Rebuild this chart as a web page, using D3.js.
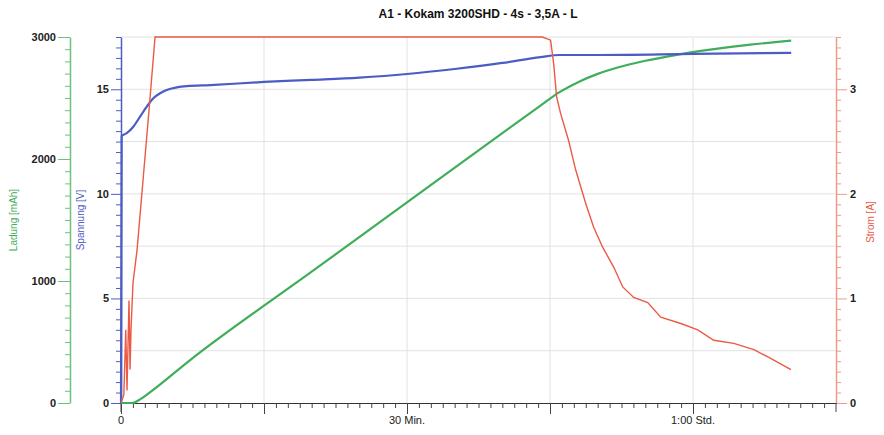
<!DOCTYPE html>
<html>
<head>
  <meta charset="utf-8">
  <title>A1 - Kokam 3200SHD</title>
  <style>
    body { margin: 0; background: #fff; }
    svg text { font-family: "Liberation Sans", Arial, sans-serif; }
  </style>
</head>
<body>
  <div id="chart"></div>
  <script src="https://cdn.jsdelivr.net/npm/d3@7"></script>
  <script type="text/javascript">
    var w = 884;
    var h = 435;

    // time in minutes
    var stromT = [0, 0.3, 0.5, 0.63, 0.84, 0.95, 1.05, 1.26, 1.68, 2.31, 2.94, 3.57, 44.2, 45.06, 45.38, 45.69, 46.11, 46.95, 47.69, 48.74, 49.58, 50.52, 51.68, 52.63, 53.78, 55.25, 56.62, 58.72, 60.5, 62.18, 64.28, 66.39, 67.86, 70.27];
    var stromA = [0, 0.08, 0.7, 0.12, 0.98, 0.32, 0.7, 1.15, 1.46, 2.13, 2.8, 3.5, 3.5, 3.47, 3.25, 2.93, 2.77, 2.51, 2.23, 1.91, 1.68, 1.49, 1.3, 1.11, 1.01, 0.96, 0.82, 0.76, 0.7, 0.6, 0.57, 0.51, 0.44, 0.32];

    var spannungT = [0, 0.07, 0.6, 1.29, 2.0, 2.7, 3.39, 4.1, 4.8, 5.85, 6.9, 9.35, 15, 20, 25, 30, 35, 40, 44, 46, 50, 60, 70.3];
    var spannungV = [0, 12.77, 12.9, 13.21, 13.69, 14.17, 14.57, 14.81, 14.97, 15.09, 15.15, 15.2, 15.35, 15.45, 15.56, 15.73, 15.97, 16.26, 16.54, 16.64, 16.64, 16.69, 16.74];

    var ladungT = [0, 1.2, 2, 3, 7.25, 20, 30, 40, 44, 46, 48, 50, 52, 55, 58, 62, 66, 70.3];
    var ladungMah = [0, 0, 30, 85, 352, 1076, 1644, 2212, 2437, 2548, 2632, 2698, 2748, 2805, 2850, 2898, 2937, 2970];

    var xLabels = [[0, "0"], [30, "30 Min."], [60, "1:00 Std."]];

    var gruen = "#3fae5a", blau = "#4b5cc4", rot = "#ea5a44";

    var x = d3.scaleLinear().domain([0, 75]).range([121, 836]);
    var yV = d3.scaleLinear().domain([0, 17.5]).range([403, 37]);
    var yA = d3.scaleLinear().domain([0, 3.5]).range([403, 37]);
    var yL = d3.scaleLinear().domain([0, 3000]).range([403, 37]);

    var svg = d3.select("#chart")
      .append("svg")
      .attr("width", w)
      .attr("height", h);

    // grid
    svg.append("g").selectAll("line")
      .data([15, 30, 45, 60])
      .enter().append("line")
      .attr("x1", function(d) { return x(d); })
      .attr("x2", function(d) { return x(d); })
      .attr("y1", 37).attr("y2", 403)
      .attr("stroke", "#e2e2e2");

    svg.append("g").selectAll("line")
      .data(d3.range(0.5, 3.51, 0.5))
      .enter().append("line")
      .attr("x1", 121).attr("x2", 836)
      .attr("y1", function(d) { return yA(d); })
      .attr("y2", function(d) { return yA(d); })
      .attr("stroke", "#e2e2e2");

    function axisStyle(g, col) {
      g.select(".domain").attr("stroke", col).attr("stroke-width", 1.5);
      g.selectAll(".tick line").attr("stroke", col);
      g.selectAll(".tick text").attr("fill", "#222").style("font-size", "11px").style("font-weight", "bold");
    }

    // green axis (Ladung)
    var gL = svg.append("g").attr("transform", "translate(70,0)");
    gL.call(d3.axisLeft(yL).tickValues(d3.range(0, 3001, 100)).tickSize(5).tickSizeOuter(0)
      .tickFormat(function(d) { return d % 1000 === 0 ? d : ""; }));
    gL.selectAll(".tick").filter(function(d) { return d % 1000 === 0; }).select("line").attr("x2", -12);
    gL.selectAll(".tick").filter(function(d) { return d % 1000 === 0; }).select("text").attr("x", -14);
    axisStyle(gL, "#6cc27e");

    // blue axis (Spannung)
    var gV = svg.append("g").attr("transform", "translate(121,0)");
    gV.call(d3.axisLeft(yV).tickValues(d3.range(0, 17.51, 0.5)).tickSize(5).tickSizeOuter(0)
      .tickFormat(function(d) { return d % 5 === 0 ? d : ""; }));
    gV.selectAll(".tick").filter(function(d) { return d % 5 === 0; }).select("line").attr("x2", -10);
    gV.selectAll(".tick").filter(function(d) { return d % 5 === 0; }).select("text").attr("x", -12);
    axisStyle(gV, blau);

    // red axis (Strom)
    var gA = svg.append("g").attr("transform", "translate(836,0)");
    gA.call(d3.axisRight(yA).tickValues(d3.range(0, 36).map(function(i) { return i / 10; })).tickSize(5).tickSizeOuter(0)
      .tickFormat(function(d) { return Math.abs(d - Math.round(d)) < 1e-6 ? d : ""; }));
    gA.selectAll(".tick").filter(function(d) { return Math.abs(d - Math.round(d)) < 1e-6; }).select("line").attr("x2", 11);
    gA.selectAll(".tick").filter(function(d) { return Math.abs(d - Math.round(d)) < 1e-6; }).select("text").attr("x", 14);
    axisStyle(gA, "#f09a8c");

    // x axis
    var gX = svg.append("g").attr("transform", "translate(0,403)");
    gX.call(d3.axisBottom(x).tickValues(d3.range(0, 60).map(function(i) { return i * 1.25; })).tickSize(5).tickSizeOuter(0)
      .tickFormat(""));
    gX.selectAll(".tick").filter(function(d) { return d % 15 === 0; }).select("line").attr("y2", 11);
    gX.select(".domain").attr("stroke", "#333").attr("stroke-width", 1.2);
    gX.selectAll(".tick line").attr("stroke", "#444");

    svg.append("g").selectAll("text")
      .data(xLabels)
      .enter().append("text")
      .attr("x", function(d) { return x(d[0]); })
      .attr("y", 424)
      .attr("text-anchor", "middle")
      .style("font-size", "11px")
      .attr("fill", "#222")
      .text(function(d) { return d[1]; });

    // axis line extension at 0 and right
    svg.append("line").attr("x1", 121).attr("x2", 121).attr("y1", 403).attr("y2", 412).attr("stroke", "#444");
    svg.append("line").attr("x1", 836).attr("x2", 836).attr("y1", 403).attr("y2", 412).attr("stroke", "#444");

    // lines
    function drawLine(ts, vs, sc, col, sw) {
      var pts = ts.map(function(t, i) { return [t, vs[i]]; });
      svg.append("path")
        .datum(pts)
        .attr("fill", "none")
        .attr("stroke", col)
        .attr("stroke-width", sw)
        .attr("stroke-linejoin", "round")
        .attr("d", d3.line()
          .x(function(d) { return x(d[0]); })
          .y(function(d) { return sc(d[1]); })
          .curve(d3.curveMonotoneX));
    }

    drawLine(ladungT, ladungMah, yL, gruen, 2.2);
    drawLine(spannungT, spannungV, yV, blau, 2.2);
    var pts = stromT.map(function(t, i) { return [t, stromA[i]]; });
    svg.append("path")
      .datum(pts)
      .attr("fill", "none")
      .attr("stroke", rot)
      .attr("stroke-width", 1.4)
      .attr("d", d3.line()
        .x(function(d) { return x(d[0]); })
        .y(function(d) { return yA(d[1]); }));

    // titles
    svg.append("text")
      .attr("x", 478).attr("y", 18)
      .attr("text-anchor", "middle")
      .style("font-size", "12px").style("font-weight", "bold")
      .attr("fill", "#111")
      .text("A1 - Kokam 3200SHD - 4s - 3,5A - L");

    function axisTitle(tx, ty, txt, col) {
      svg.append("text")
        .attr("transform", "translate(" + tx + "," + ty + ") rotate(-90)")
        .attr("text-anchor", "middle")
        .style("font-size", "10px")
        .attr("fill", col)
        .text(txt);
    }
    axisTitle(17, 220, "Ladung [mAh]", gruen);
    axisTitle(84, 220, "Spannung [V]", blau);
    axisTitle(874, 222, "Strom [A]", rot);
  </script>
</body>
</html>
